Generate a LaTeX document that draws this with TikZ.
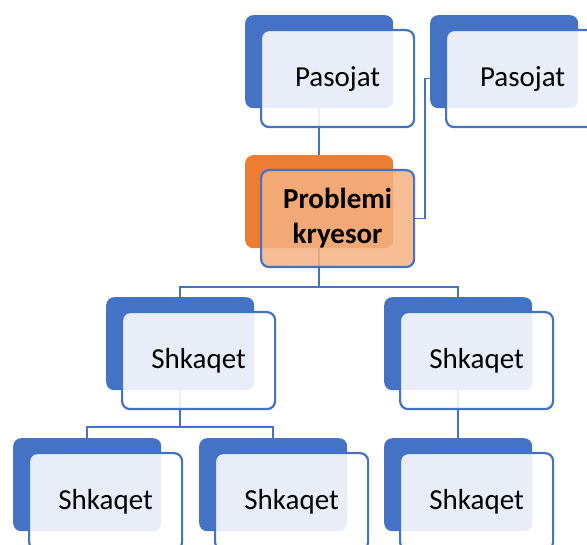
\documentclass[tikz,border=0pt]{standalone}
\usepackage{fontspec}
\setmainfont{Carlito}
\usetikzlibrary{calc}
\definecolor{bl}{HTML}{4472C4}
\definecolor{orD}{HTML}{ED7D31}
\definecolor{orL}{HTML}{F4B183}
\pgfdeclarelayer{background}
\pgfsetlayers{background,main}
\begin{document}
\begin{tikzpicture}[x=1pt,y=-1pt,
 back/.style={rounded corners=8pt, minimum width=148pt, minimum height=93pt, inner sep=0pt, fill=bl, anchor=north west},
 front/.style={rounded corners=8pt, minimum width=153pt, minimum height=97pt, inner sep=0pt, draw=bl, line width=2.2pt, fill=white, fill opacity=0.88, text opacity=1, anchor=north west, font=\fontsize{29}{35}\selectfont, align=center},
 link/.style={draw=bl, line width=1.8pt}]
\useasboundingbox (0,0) rectangle (587,545);
\clip (0,0) rectangle (587,545);
% back boxes
\node[back] (pa) at (245,15) {};
\node[back] (pb) at (430,15) {};
\node[back, fill=orD] (pr) at (245,155) {};
\node[back] (s1) at (106,297) {};
\node[back] (s2) at (384,297) {};
\node[back] (t1) at (13,438) {};
\node[back] (t2) at (199,438) {};
\node[back] (t3) at (384,438) {};
% front boxes
\node[front] (paf) at (260,29) {Pasojat};
\node[front] (pbf) at (445,29) {Pasojat};
\node[front, fill=orL, fill opacity=0.85] (prf) at (260,169) {\bfseries Problemi\\\bfseries kryesor};
\node[front] (s1f) at (121,311) {Shkaqet};
\node[front] (s2f) at (399,311) {Shkaqet};
\node[front] (t1f) at (28,452) {Shkaqet};
\node[front] (t2f) at (214,452) {Shkaqet};
\node[front] (t3f) at (399,452) {Shkaqet};
% connectors
\begin{pgfonlayer}{background}
\draw[link] (pa.south) -- (pr.north);
\draw[link] (prf.east) -- ++(10,0) |- (pbf.west);
\coordinate (b1) at ($(pr.south)+(0,39)$);
\draw[link] (pr.south) -- (b1);
\draw[link] (s1.north) |- (b1) -| (s2.north);
\coordinate (b2) at ($(s1.south)+(0,37)$);
\draw[link] (s1.south) -- (b2);
\draw[link] (t1.north) |- (b2) -| (t2.north);
\draw[link] (s2.south) -- (t3.north);
\end{pgfonlayer}
\end{tikzpicture}
\end{document}
